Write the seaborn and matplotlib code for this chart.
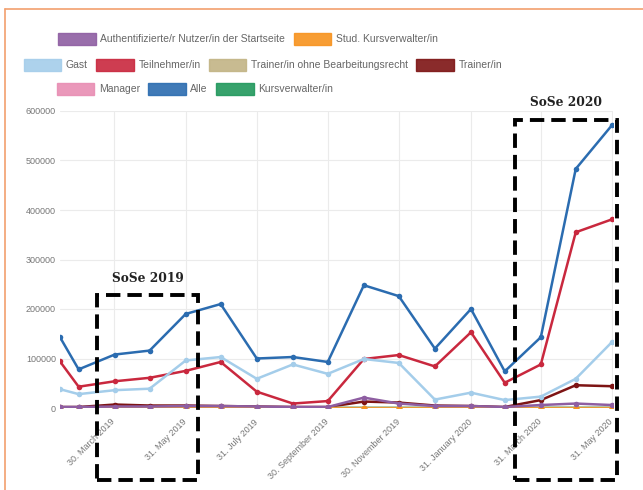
import matplotlib.pyplot as plt
import matplotlib.patches as mpatches
import matplotlib.lines as mlines
import seaborn as sns
import pandas as pd

# monthly snapshots (first one mid February 2019)
dates = ["2019-02-12", "2019-02-28", "2019-03-31", "2019-04-30", "2019-05-31", "2019-06-30",
         "2019-07-31", "2019-08-31", "2019-09-30", "2019-10-31", "2019-11-30", "2019-12-31",
         "2020-01-31", "2020-02-29", "2020-03-31", "2020-04-30", "2020-05-31"]

authentifizierte = [2000, 2000, 3000, 3000, 4000, 4000, 3000, 2000, 2000, 21000, 9000, 4000,
                    4000, 2000, 6000, 9000, 6000]
stud_kursverwalter = [300, 300, 300, 300, 300, 300, 300, 300, 300, 300, 300, 300,
                      300, 300, 300, 300, 300]
gast = [38000, 28000, 36000, 39000, 96000, 103000, 59000, 88000, 69000, 99000, 91000, 17000,
        31000, 16000, 23000, 59000, 133000]
teilnehmer = [94000, 43000, 54000, 61000, 75000, 93000, 33000, 9000, 14000, 99000, 107000, 84000,
              153000, 51000, 88000, 355000, 381000]
trainer_ohne = [200, 200, 200, 200, 200, 200, 200, 200, 200, 300, 300, 200,
                200, 200, 300, 400, 400]
trainer = [2000, 2000, 7000, 5000, 5000, 4000, 3000, 2000, 2000, 13000, 11000, 5000,
           4000, 2000, 16000, 46000, 44000]
manager = [100, 100, 100, 100, 100, 100, 100, 100, 100, 100, 100, 100,
           100, 100, 100, 100, 100]
alle = [143000, 78000, 108000, 116000, 190000, 210000, 100000, 103000, 93000, 248000, 226000, 120000,
        200000, 74000, 143000, 483000, 571000]
kursverwalter = [200, 200, 200, 200, 200, 200, 200, 200, 200, 200, 200, 200,
                 200, 200, 300, 300, 300]

roles = ["Authentifizierte/r Nutzer/in der Startseite", "Stud. Kursverwalter/in", "Gast",
         "Teilnehmer/in", "Trainer/in ohne Bearbeitungsrecht", "Trainer/in", "Manager", "Alle",
         "Kursverwalter/in"]
colors = ["#8e5ea2", "#f7931e", "#a4cdea", "#c9283e", "#c2b485", "#7d1414", "#e88db3",
          "#2b6cb0", "#21985c"]

tick_dates = ["2019-03-30", "2019-05-31", "2019-07-31", "2019-09-30", "2019-11-30",
              "2020-01-31", "2020-03-31", "2020-05-31"]
tick_labels = ["30. March 2019", "31. May 2019", "31. July 2019", "30. September 2019",
               "30. November 2019", "31. January 2020", "31. March 2020", "31. May 2020"]

series = [authentifizierte, stud_kursverwalter, gast, teilnehmer, trainer_ohne, trainer,
          manager, alle, kursverwalter]
rows = []
for role, vals in zip(roles, series):
    for d, v in zip(dates, vals):
        rows.append({"date": pd.Timestamp(d), "role": role, "value": v})
df = pd.DataFrame(rows)

sns.set_style("whitegrid")
plt.rcParams['font.family'] = ['Liberation Sans', 'DejaVu Sans']

fig = plt.figure(figsize=(6.43, 4.90), dpi=100)
ax = fig.add_axes([60 / 643, 1 - 408 / 490, 553 / 643, 297 / 490])

palette = dict(zip(roles, colors))
# first dataset ends up on top, like the original
sns.lineplot(data=df, x="date", y="value", hue="role", hue_order=roles[::-1],
             palette=palette, marker="o", markersize=4, markeredgewidth=0,
             linewidth=1.8, legend=False, ax=ax)

ax.set_xlim(pd.Timestamp(dates[0]), pd.Timestamp("2020-06-01"))
ax.set_ylim(0, 600000)
ax.set_yticks(range(0, 600001, 100000))
ax.set_yticklabels([str(v) for v in range(0, 600001, 100000)])
ax.set_xticks([pd.Timestamp(d) for d in tick_dates])
ax.set_xticklabels(tick_labels, rotation=45, ha="right", va="center", rotation_mode="anchor")
ax.tick_params(axis="both", length=0, labelsize=6.5, labelcolor="#777777")
ax.tick_params(axis="x", pad=9)
ax.tick_params(axis="y", pad=3)
ax.grid(True, color="#ebebeb", linewidth=0.8)
ax.set_xlabel("")
ax.set_ylabel("")
for s in ax.spines.values():
    s.set_visible(False)

# legend rows, laid out like the original chart
handles = [mpatches.Patch(facecolor=c, edgecolor=c, alpha=0.9) for c in colors]
legend_rows = [([0, 1], 248), ([2, 3, 4, 5], 263), ([6, 7, 8], 195)]
row_y = [39, 65, 89]
for (idx, cx), ry in zip(legend_rows, row_y):
    leg = fig.legend([handles[i] for i in idx], [roles[i] for i in idx], loc="center",
                     bbox_to_anchor=(cx / 643, 1 - ry / 490), ncol=len(idx), frameon=False,
                     fontsize=7.5, handlelength=3.6, handleheight=1.3, handletextpad=0.45,
                     columnspacing=0.8, borderpad=0, labelcolor="#666666")

# dashed boxes for the summer terms
for x0, y0, x1, y1, label, ty in [(97, 295, 198, 480, "SoSe 2019", 278),
                                  (515, 120, 617, 480, "SoSe 2020", 102)]:
    rect = mpatches.Rectangle((x0 / 643, 1 - y1 / 490), (x1 - x0) / 643, (y1 - y0) / 490,
                              transform=fig.transFigure, fill=False, edgecolor="black",
                              linewidth=2.8, linestyle=(0, (3.7, 1.8)), zorder=10)
    fig.add_artist(rect)
    fig.text((x0 + x1) / 2 / 643, 1 - ty / 490, label, ha="center", va="center",
             fontsize=8.8, fontweight="bold", family="DejaVu Serif", color="#222222")

# orange frame of the screenshot
fig.add_artist(mlines.Line2D([5 / 643, 1], [1 - 9 / 490, 1 - 9 / 490],
                             transform=fig.transFigure, color="#f2a06e", linewidth=1.2))
fig.add_artist(mlines.Line2D([5 / 643, 5 / 643], [0, 1 - 9 / 490],
                             transform=fig.transFigure, color="#f2a06e", linewidth=1.2))

fig.savefig("out.png", dpi=100)
